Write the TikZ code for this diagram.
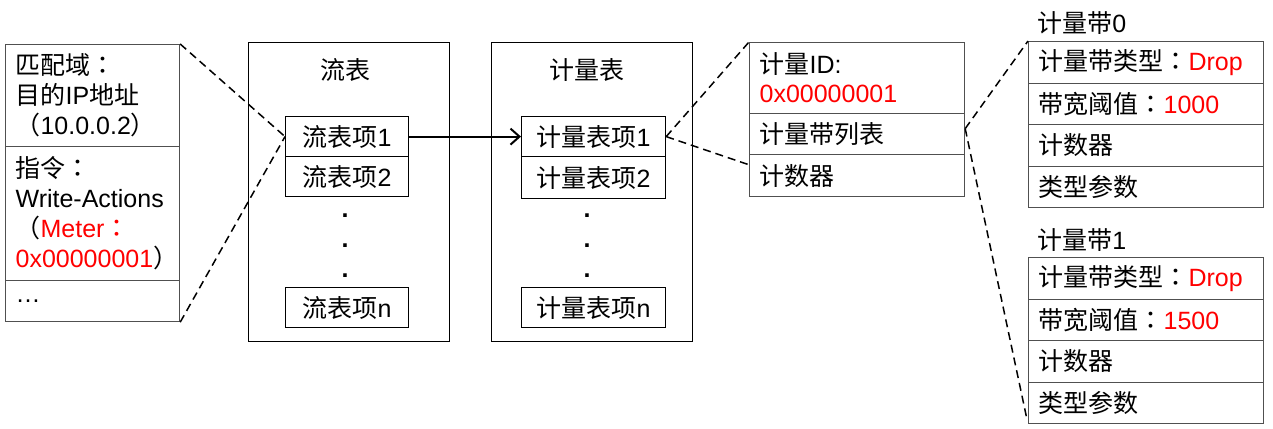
\documentclass[tikz,border=0pt]{standalone}
\usepackage{fontspec}
\setmainfont{Liberation Sans}
\newfontfamily\zhfont{Noto Sans CJK SC}
\newfontfamily\zhpunct{Noto Sans CJK TC}
\newcommand{\zh}[1]{{\zhfont #1}}
\newcommand{\zp}[1]{{\zhpunct #1}}
\usetikzlibrary{calc,arrows.meta}
\definecolor{mtrred}{HTML}{FF0000}
\definecolor{boxline}{HTML}{505050}

\begin{document}
\begin{tikzpicture}[x=0.5pt, y=-0.5pt,
    font=\fontsize{12.5pt}{15pt}\selectfont,
    >={Straight Barb[length=4.5pt, width=8pt]},
    cell/.style={draw=boxline, line width=0.6pt, anchor=north west, inner xsep=5pt, inner ysep=0pt, align=left},
    entry/.style={draw, line width=0.6pt, anchor=north west, inner sep=0pt, minimum height=20pt, align=center},
    tabbox/.style={draw, line width=0.6pt, anchor=north west, inner sep=0pt, minimum width=100.5pt, minimum height=149.5pt},
    link/.style={dash pattern=on 4pt off 2.5pt, line width=0.75pt}]

    \useasboundingbox (0,0) rectangle (1273,428);

    % Flow entry fields
    \node[cell, text width=77pt, minimum height=51pt] (lmatch) at (5,44)
        {\zh{匹配域}\zp{：}\\\zh{目的}IP\zh{地址}\\\zp{（}10.0.0.2\zp{）}};
    \node[cell, text width=77pt, minimum height=67pt] (linstr) at (5,146)
        {\zh{指令}\zp{：}\\Write-Actions\\\zp{（}\textcolor{mtrred}{Meter\zp{：}}\\\textcolor{mtrred}{0x00000001}\zp{）}};
    \node[cell, text width=77pt, minimum height=20.5pt] (lmore) at (5,280) {…};

    % Flow table
    \node[tabbox] (flowtab) at (248,42) {};
    \node (flowtitle) at (345,70) {\zh{流表}};
    \node[entry, minimum width=61.5pt] (flow1) at (285,116) {\zh{流表项}1};
    \node[entry, minimum width=61.5pt] (flow2) at (285,156) {\zh{流表项}2};
    \node[entry, minimum width=61.5pt] (flown) at (285,287) {\zh{流表项}n};
    \node[align=center, font=\fontsize{12.5pt}{15pt}\selectfont\bfseries] (flowdots) at (345,246) {.\\.\\.};

    % Meter table
    \node[tabbox] (mtrtab) at (491,42) {};
    \node (mtrtitle) at (587,70) {\zh{计量表}};
    \node[entry, minimum width=72pt] (mtr1) at (521,116) {\zh{计量表项}1};
    \node[entry, minimum width=72pt, minimum height=21pt] (mtr2) at (521,156) {\zh{计量表项}2};
    \node[entry, minimum width=72pt] (mtrn) at (521,287) {\zh{计量表项}n};
    \node[align=center, font=\fontsize{12.5pt}{15pt}\selectfont\bfseries] (mtrdots) at (587,246) {.\\.\\.};

    \draw[->, line width=1pt] (flow1) -- (mtr1);

    % Meter entry fields
    \node[cell, text width=97.5pt, minimum height=35.5pt] (mid) at (749,42)
        {\zh{计量}ID:\\[-0.5pt]\textcolor{mtrred}{0x00000001}};
    \node[cell, text width=97.5pt, minimum height=20.5pt] (mlist) at (749,113) {\zh{计量带列表}};
    \node[cell, text width=97.5pt, minimum height=21pt] (mcnt) at (749,154) {\zh{计数器}};

    % Meter band 0
    \node[anchor=west, inner sep=0pt] (b0lbl) at (1037,23) {\zh{计量带}0};
    \node[cell, text width=107.5pt, minimum height=20.75pt] (b0type) at (1028,41)
        {\zh{计量带类型}\zp{：}\textcolor{mtrred}{Drop}};
    \node[cell, text width=107.5pt, minimum height=20.75pt] (b0rate) at (1028,82.5)
        {\zh{带宽阈值}\zp{：}\textcolor{mtrred}{1000}};
    \node[cell, text width=107.5pt, minimum height=20.75pt] (b0cnt) at (1028,124) {\zh{计数器}};
    \node[cell, text width=107.5pt, minimum height=20.75pt] (b0par) at (1028,165.5) {\zh{类型参数}};

    % Meter band 1
    \node[anchor=west, inner sep=0pt] (b1lbl) at (1037,240) {\zh{计量带}1};
    \node[cell, text width=107.5pt, minimum height=20.75pt] (b1type) at (1028,257)
        {\zh{计量带类型}\zp{：}\textcolor{mtrred}{Drop}};
    \node[cell, text width=107.5pt, minimum height=20.75pt] (b1rate) at (1028,298.5)
        {\zh{带宽阈值}\zp{：}\textcolor{mtrred}{1500}};
    \node[cell, text width=107.5pt, minimum height=20.75pt] (b1cnt) at (1028,340) {\zh{计数器}};
    \node[cell, text width=107.5pt, minimum height=20.75pt] (b1par) at (1028,381.5) {\zh{类型参数}};

    % Dashed zoom lines
    \coordinate (mcntin) at ($(mcnt.north west)!0.25!(mcnt.south west)$);
    \coordinate (mlistout) at ($(mlist.north east)!0.37!(mlist.south east)$);
    \draw[link] (lmatch.north east) -- (flow1.west);
    \draw[link] (lmore.south east) -- (flow1.west);
    \draw[link] (mtr1.east) -- (mid.north west);
    \draw[link] (mtr1.east) -- (mcntin);
    \draw[link] (mlistout) -- (b0type.north west);
    \draw[link, shorten >=2.5pt] (mlistout) -- (b1par.south west);
\end{tikzpicture}
\end{document}
